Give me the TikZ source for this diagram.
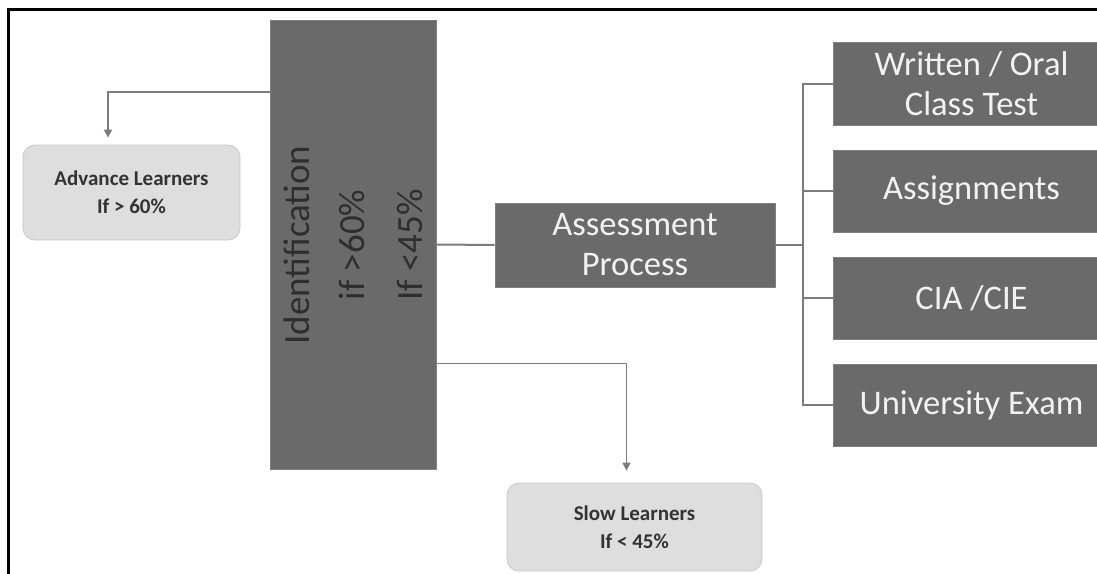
\documentclass[tikz,border=0pt]{standalone}
\usepackage{fontspec}
\setmainfont{Carlito}
\usetikzlibrary{arrows.meta}
\definecolor{darkbox}{HTML}{6A6A6A}
\definecolor{lightbox}{HTML}{DEDEDE}
\definecolor{lightedge}{HTML}{C9C9C9}
\definecolor{conncol}{HTML}{7C7C7C}
\definecolor{rottext}{HTML}{2E2E2E}
\definecolor{boxtext}{HTML}{F2F2F2}
\definecolor{learntext}{HTML}{333333}
\tikzset{
  darkstep/.style={rectangle, fill=darkbox, draw=darkbox!85!white, line width=0.8pt, text=boxtext, align=center, inner sep=0pt, font=\fontsize{34.5}{40}\selectfont},
  learnbox/.style={rectangle, rounded corners=12pt, fill=lightbox, draw=lightedge, line width=0.8pt, text=learntext, align=center, inner sep=0pt, font=\bfseries\fontsize{21}{28}\selectfont},
  rotlabel/.style={rotate=90, text=rottext, inner sep=0pt, font=\fontsize{37}{40}\selectfont},
  conn/.style={draw=conncol, line width=2pt},
  arrowconn/.style={draw=conncol, line width=1.5pt, -{Triangle[length=8pt,width=8pt]}}
}
\begin{document}
\begin{tikzpicture}[x=1pt,y=-1pt]
\useasboundingbox (0,0) rectangle (1097,573);
\clip (0,0) rectangle (1097,573);
\fill[white] (0,0) rectangle (1097,573);
% frame
\draw[black, line width=3pt] (8.5,575) -- (8.5,9.5) -- (1100,9.5);
% identification
\node[rectangle, fill=darkbox, draw=darkbox!85!white, line width=0.8pt, minimum width=166pt, minimum height=449pt, inner sep=0pt] (ident) at (353,244.5) {};
\node[rotlabel] (idt) at (297,245) {Identification};
\node[rotlabel] (idg) at (352,245) {if >60\%};
\node[rotlabel] (idl) at (410,245) {If <45\%};
% learners
\node[learnbox, minimum width=217pt, minimum height=95pt] (adv) at (131.5,192.5) {Advance Learners\\If > 60\%};
\node[learnbox, minimum width=255pt, minimum height=88pt] (slow) at (634.5,527) {Slow Learners\\If < 45\%};
% assessment
\node[darkstep, minimum width=280pt, minimum height=84pt] (assess) at (635,245) {Assessment\\Process};
% right boxes
\node[darkstep, minimum width=277pt, minimum height=83pt] (b1) at (971.5,83.5) {Written / Oral\\Class Test};
\node[darkstep, minimum width=277pt, minimum height=82pt] (b2) at (971.5,191) {Assignments};
\node[darkstep, minimum width=277pt, minimum height=82pt] (b3) at (971.5,298) {CIA /CIE};
\node[darkstep, minimum width=277pt, minimum height=82pt] (b4) at (971.5,405) {University Exam};
% connectors
\coordinate (tr) at (803,245);
\draw[conn] (ident.east) -- (assess.west);
\draw[conn] (assess.east) -- (tr);
\draw[conn] (b1.west) -| (tr);
\draw[conn] (b2.west) -| (tr);
\draw[conn] (b3.west) -| (tr);
\draw[conn] (b4.west) -| (tr);
\draw[arrowconn, shorten >=7pt] (ident.west |- 0,92) -| ([xshift=-23.5pt]adv.north);
\draw[arrowconn, shorten >=12pt] (ident.east |- 0,363.5) -| ([xshift=-8pt]slow.north);
\end{tikzpicture}
\end{document}
